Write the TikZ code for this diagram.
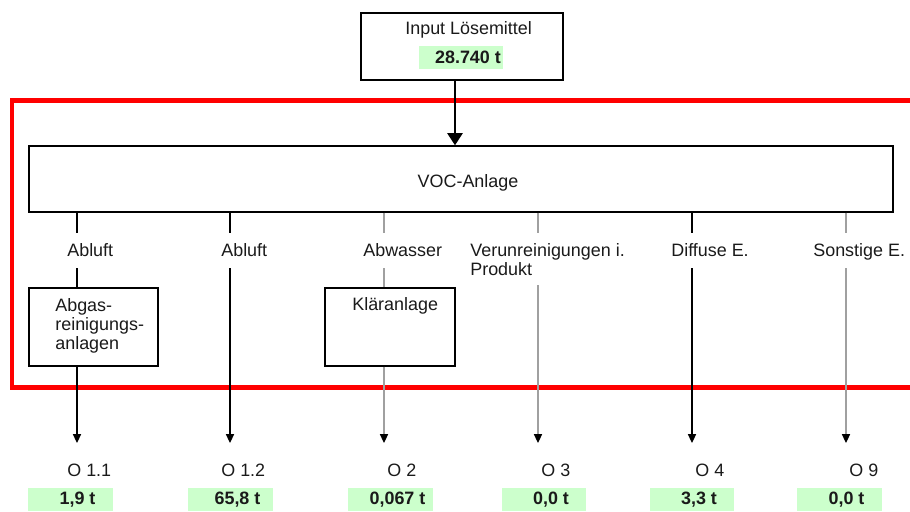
\documentclass[tikz,border=0pt]{standalone}
\usepackage{fontspec}
\setmainfont{Liberation Sans}
\usetikzlibrary{arrows.meta}
\definecolor{ink}{HTML}{1A1A1A}
\definecolor{mint}{HTML}{CCFFCC}
\definecolor{ash}{HTML}{A0A0A0}
\definecolor{signal}{HTML}{FF0000}

\begin{document}
\begin{tikzpicture}[
  x=0.02cm, y=-0.02cm,
  font=\fontsize{10.2}{10.6}\selectfont,
  box/.style={draw=black, line width=0.7pt, fill=white, inner sep=0pt},
  txt/.style={anchor=base west, inner sep=0pt, text=ink, align=left},
  val/.style={fill=mint, minimum width=1.7cm, minimum height=0.46cm,
              inner sep=0pt, text=ink,
              font=\fontsize{10.2}{10.6}\selectfont\bfseries,
              execute at begin node=\hspace*{0.28cm}},
  stub/.style={line width=0.6pt},
  flow/.style={-{Triangle[width=4.6pt,length=5pt,color=black]}, line width=0.6pt},
  main/.style={-{Triangle[width=8.5pt,length=7pt]}, line width=1.7pt},
  frame/.style={draw=signal, line width=2.6pt},
]
\useasboundingbox (0,0) rectangle (910,511);

% system boundary
\draw[frame] (915,100.5) -| (12,387.5) -- (915,387.5);

\node[box, minimum width=4.04cm, minimum height=1.34cm] (inp) at (462,46.5) {};
\node[txt] (inptxt) at (405,34) {Input Lösemittel};
\node[val] (inpval) at (461,57.5) {28.740 t};

\node[box, minimum width=17.28cm, minimum height=1.32cm] (voc) at (461,179) {};
\node[txt, anchor=base] (voctxt) at (468,187) {VOC-Anlage};

% multi-line texts: base is the last line
\node[box, minimum width=2.58cm, minimum height=1.56cm] (abgas) at (93.5,327) {};
\node[txt] (abgastxt) at (55,349) {Abgas-\\reinigungs-\\anlagen};
\node[box, minimum width=2.6cm, minimum height=1.56cm] (klaer) at (390,327) {};
\node[txt] (klaertxt) at (352,310) {Kläranlage};

\node[txt] (l1) at (67,256) {Abluft};
\node[txt] (l2) at (221,256) {Abluft};
\node[txt] (l3) at (363,256) {Abwasser};
\node[txt] (l4) at (470,275) {Verunreinigungen i.\\Produkt};
\node[txt] (l5) at (671,256) {Diffuse E.};
\node[txt] (l6) at (813,256) {Sonstige E.};

\node[txt] (o1) at (67,476) {O 1.1};
\node[txt] (o2) at (221,476) {O 1.2};
\node[txt] (o3) at (387,476) {O 2};
\node[txt] (o4) at (541,476) {O 3};
\node[txt] (o5) at (695,476) {O 4};
\node[txt] (o6) at (849,476) {O 9};

\node[val] (v1) at (70.5,499.5) {1,9 t};
\node[val] (v2) at (230.5,499.5) {65,8 t};
\node[val] (v3) at (390.5,499.5) {0,067 t};
\node[val] (v4) at (544,499.5) {0,0 t};
\node[val] (v5) at (692,499.5) {3,3 t};
\node[val] (v6) at (839.5,499.5) {0,0 t};

\coordinate (drop) at (455,0);
\coordinate (a1) at (77,233);  \coordinate (b1) at (77,268);  \coordinate (e1) at (77,443);
\coordinate (a2) at (230,233); \coordinate (b2) at (230,268); \coordinate (e2) at (230,443);
\coordinate (a3) at (384,233); \coordinate (b3) at (384,268); \coordinate (e3) at (384,443);
\coordinate (a4) at (538,233); \coordinate (b4) at (538,285); \coordinate (e4) at (538,443);
\coordinate (a5) at (692,233); \coordinate (b5) at (692,268); \coordinate (e5) at (692,443);
\coordinate (a6) at (846,233); \coordinate (b6) at (846,268); \coordinate (e6) at (846,443);

\draw[main] (inp.south -| drop) -- (voc.north -| drop);

\draw[stub] (voc.south -| a1) -- (a1);
\draw[stub] (b1) -- (abgas.north -| b1);
\draw[flow] (abgas.south -| b1) -- (e1);

\draw[stub] (voc.south -| a2) -- (a2);
\draw[flow] (b2) -- (e2);

\draw[stub, draw=ash] (voc.south -| a3) -- (a3);
\draw[stub, draw=ash] (b3) -- (klaer.north -| b3);
\draw[flow, draw=ash] (klaer.south -| b3) -- (e3);

\draw[stub, draw=ash] (voc.south -| a4) -- (a4);
\draw[flow, draw=ash] (b4) -- (e4);

\draw[stub] (voc.south -| a5) -- (a5);
\draw[flow] (b5) -- (e5);

\draw[stub, draw=ash] (voc.south -| a6) -- (a6);
\draw[flow, draw=ash] (b6) -- (e6);
\end{tikzpicture}
\end{document}
